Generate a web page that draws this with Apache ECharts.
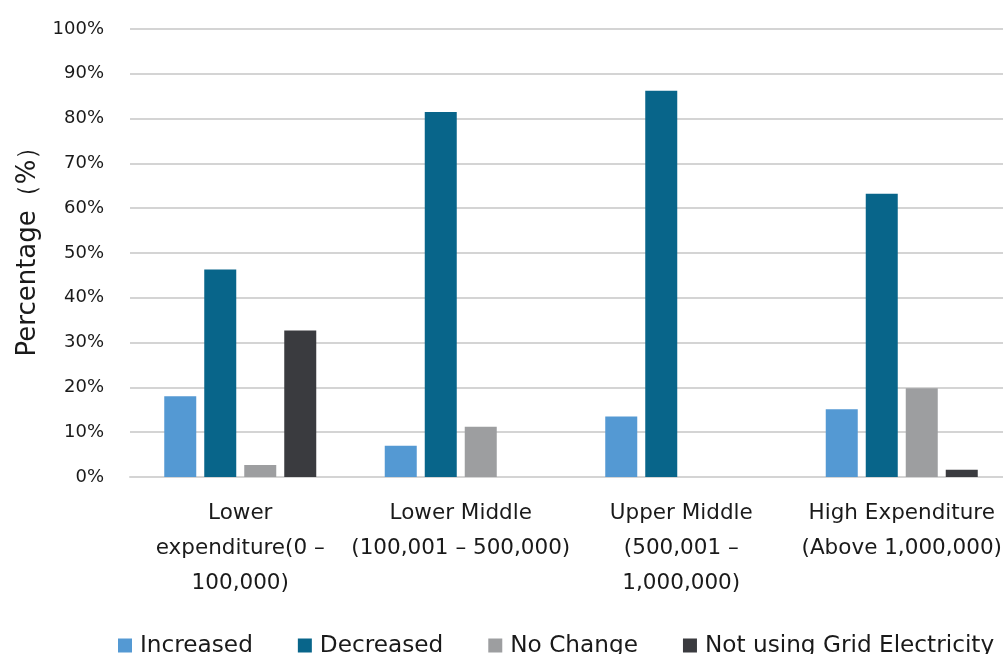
<!DOCTYPE html>
<html>
<head>
<meta charset="utf-8">
<script src="https://cdn.jsdelivr.net/npm/echarts@6/dist/echarts.min.js"></script>
<style>
  html, body { margin: 0; padding: 0; background: #ffffff; overflow: hidden; width: 1003px; height: 654px; }
  /* the plot area runs slightly past the right edge of the page */
  #chart { width: 1013px; height: 654px; }
</style>
</head>
<body>
<div id="chart"></div>
<script>
// Expenditure groups (category axis)
const categories = [
  'Lower\nexpenditure(0 –\n100,000)',
  'Lower Middle\n(100,001 – 500,000)',
  'Upper Middle\n(500,001 –\n1,000,000)',
  'High Expenditure\n(Above 1,000,000)'
];

// Share of households per response, in percent
const increased = [18.0, 7.0, 13.5, 15.1];
const decreased = [46.3, 81.5, 86.2, 63.2];
const noChange = [2.7, 11.2, 0, 19.8];
const notUsingGrid = [32.7, 0, 0, 1.6];

const seriesNames = ['Increased', 'Decreased', 'No Change', 'Not using Grid Electricity'];
const seriesColors = ['#5499d3', '#08658a', '#9d9ea0', '#3a3b3f'];
const seriesData = [increased, decreased, noChange, notUsingGrid];

const FONT = '"DejaVu Sans", sans-serif';
const TEXT = '#1a1a1a';
const chart = echarts.init(document.getElementById('chart'), null, { renderer: 'canvas' });

chart.setOption({
  animation: false,
  backgroundColor: '#ffffff',
  textStyle: { fontFamily: FONT },
  grid: { left: 130, top: 29, width: 882, height: 448, containLabel: false },
  legend: {
    left: 113,
    top: 629,
    itemWidth: 14,
    itemHeight: 14,
    itemGap: 45,
    icon: 'rect',
    textStyle: { fontFamily: FONT, fontSize: 23.2, color: TEXT, padding: [0, 0, 0, 3] },
    data: seriesNames
  },
  xAxis: {
    type: 'category',
    data: categories,
    axisTick: { show: false },
    axisLine: { show: true, lineStyle: { color: '#d4d4d4', width: 2 } },
    axisLabel: {
      interval: 0,
      margin: 19,
      fontFamily: FONT,
      fontSize: 21.5,
      lineHeight: 35,
      color: TEXT
    }
  },
  yAxis: {
    type: 'value',
    min: 0,
    max: 100,
    interval: 10,
    name: 'Percentage（%）',
    nameLocation: 'middle',
    nameGap: 80,
    nameTextStyle: { fontFamily: FONT, fontSize: 26, color: TEXT, padding: [0, 0, 0, 16] },
    axisLine: { show: false },
    axisTick: { show: false },
    axisLabel: {
      margin: 26,
      fontFamily: FONT,
      fontSize: 18,
      color: TEXT,
      formatter: '{value}%'
    },
    splitLine: { lineStyle: { color: '#d4d4d4', width: 2 } }
  },
  series: seriesNames.map((name, i) => ({
    name: name,
    type: 'bar',
    data: seriesData[i],
    barWidth: 32,
    barGap: '25%',
    itemStyle: { color: seriesColors[i] }
  }))
});
</script>
</body>
</html>
